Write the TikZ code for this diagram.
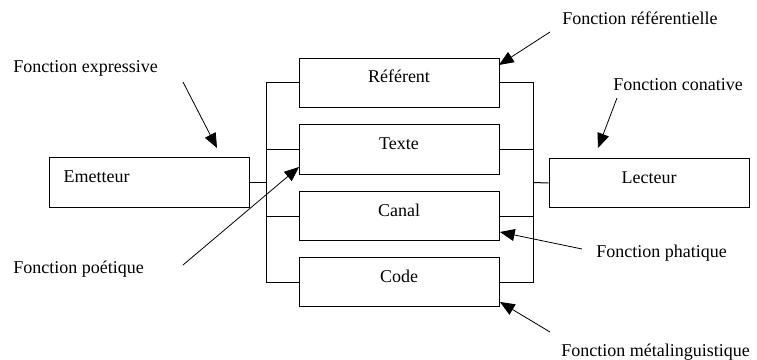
\documentclass[tikz,border=0pt]{standalone}
\usepackage{fontspec}
\setmainfont{Liberation Serif}
\usetikzlibrary{arrows.meta}
\begin{document}
\begin{tikzpicture}[x=0.75pt,y=-0.75pt,
  every node/.style={font=\fontsize{13.5pt}{16pt}\selectfont},
  box/.style={draw,line width=0.75pt,rectangle,inner sep=0pt,minimum width=150pt,minimum height=37pt,
    text height=10pt,text depth=10pt},
  lbox/.style={box,inner xsep=11pt,text width=128pt,align=left},
  lbl/.style={anchor=base west,inner sep=0pt},
  wire/.style={line width=0.75pt},
  arr/.style={line width=0.6pt,-{Triangle[length=11pt,width=9pt]}}]
\useasboundingbox (0,0) rectangle (757,360);
% boxes
\node[lbox] (em) at (149,182.5) {Emetteur};
\node[box] (lec) at (649,183) {Lecteur};
\node[box] (ref) at (399,83) {Référent};
\node[box] (txt) at (399,149.5) {Texte};
\node[box] (can) at (399,216) {Canal};
\node[box] (cod) at (399,282) {Code};
% brackets
\coordinate (L) at (266,182.5);
\coordinate (R) at (533,182.5);
\draw[wire] (ref.west) -| (L |- cod.west) -- (cod.west);
\draw[wire] (txt.west) -- (L |- txt.west);
\draw[wire] (can.west) -- (L |- can.west);
\draw[wire] (em.east) -- (L);
\draw[wire] (ref.east) -| (R |- cod.east) -- (cod.east);
\draw[wire] (txt.east) -- (R |- txt.east);
\draw[wire] (can.east) -- (R |- can.east);
\draw[wire] (lec.west) -- (R);
% labels
\node[lbl] (fexp) at (13,73) {Fonction expressive};
\node[lbl] (fref) at (562,25) {Fonction référentielle};
\node[lbl] (fcon) at (613,91) {Fonction conative};
\node[lbl] (fpoe) at (13,273) {Fonction poétique};
\node[lbl] (fpha) at (596,257) {Fonction phatique};
\node[lbl] (fmet) at (561,356) {Fonction métalinguistique};
% arrows
\coordinate (a1) at (183,82);  \coordinate (b1) at (217,148);
\coordinate (a2) at (550,32);  \coordinate (b2) at (499,65);
\coordinate (a3) at (617,98);  \coordinate (b3) at (598,148);
\coordinate (a4) at (183,265); \coordinate (b4) at (299,167);
\coordinate (a5) at (582,249); \coordinate (b5) at (500,232);
\coordinate (a6) at (550,332); \coordinate (b6) at (500,302);
\draw[arr] (a1) -- (b1);
\draw[arr] (a2) -- (b2);
\draw[arr] (a3) -- (b3);
\draw[arr] (a4) -- (b4);
\draw[arr] (a5) -- (b5);
\draw[arr] (a6) -- (b6);
\end{tikzpicture}
\end{document}
